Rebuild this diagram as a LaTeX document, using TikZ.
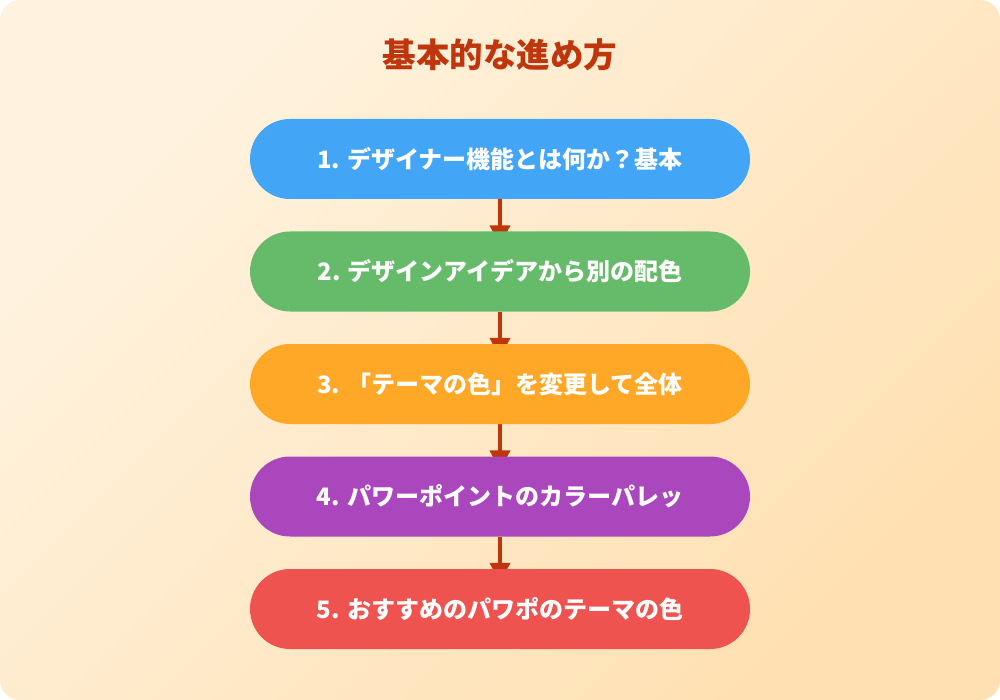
\documentclass[tikz,border=0pt]{standalone}
\usepackage{fontspec}
\setmainfont{Noto Sans CJK JP}
\usetikzlibrary{arrows.meta}
\definecolor{bglight}{HTML}{FFF3E0}
\definecolor{bgdark}{HTML}{FFE0B2}
\definecolor{titlered}{HTML}{BF360C}
\definecolor{stepblue}{HTML}{42A5F5}
\definecolor{stepgreen}{HTML}{66BB6A}
\definecolor{steporange}{HTML}{FFA726}
\definecolor{steppurple}{HTML}{AB47BC}
\definecolor{stepred}{HTML}{EF5350}
\pgfdeclarelayer{background}
\pgfsetlayers{background,main}
\tikzset{
  stepbox/.style={rectangle, rounded corners=40pt, minimum width=500pt,
    minimum height=80pt, text=white, inner sep=0pt,
    font=\fontsize{24}{28}\selectfont\bfseries},
  flowarrow/.style={draw=titlered, line width=4pt,
    -{Triangle[width=20pt,length=20pt]}}
}
\begin{document}
\begin{tikzpicture}[x=1pt,y=-1pt]
  \useasboundingbox (0,0) rectangle (1000,700);
  \begin{pgfonlayer}{background}
    % background card
    \shade[rounded corners=20pt, top color=bglight, bottom color=bgdark,
      shading angle=45] (0,0) rectangle (1000,700);
  \end{pgfonlayer}

  % title
  \node[text=titlered, font=\fontsize{33.5}{40}\selectfont\bfseries] (title)
    at (500,55) {基本的な進め方};

  % steps 1--5
  \node[stepbox, fill=stepblue]   (s1) at (500,159)   {1. デザイナー機能とは何か？基本};
  \node[stepbox, fill=stepgreen]  (s2) at (500,271.5) {2. デザインアイデアから別の配色};
  \node[stepbox, fill=steporange] (s3) at (500,384)   {3. 「テーマの色」を変更して全体};
  \node[stepbox, fill=steppurple] (s4) at (500,496.5) {4. パワーポイントのカラーパレッ};
  \node[stepbox, fill=stepred]    (s5) at (500,609)   {5. おすすめのパワポのテーマの色};

  % arrows, tips partly under the next step
  \begin{pgfonlayer}{background}
    \draw[flowarrow] (s1.south) -- ([yshift=-14pt]s2.north);
    \draw[flowarrow] (s2.south) -- ([yshift=-14pt]s3.north);
    \draw[flowarrow] (s3.south) -- ([yshift=-14pt]s4.north);
    \draw[flowarrow] (s4.south) -- ([yshift=-14pt]s5.north);
  \end{pgfonlayer}
\end{tikzpicture}
\end{document}
